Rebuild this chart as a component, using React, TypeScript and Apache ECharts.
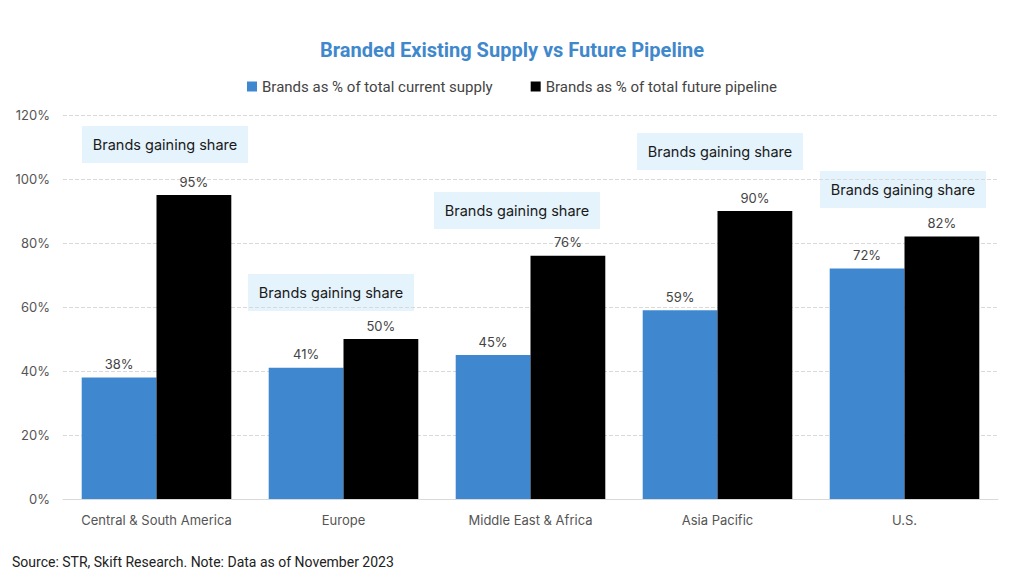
import React, { useEffect, useRef } from "react";
import * as echarts from "echarts";

const categories = ["Central & South America", "Europe", "Middle East & Africa", "Asia Pacific", "U.S."];
const currentSupply = [38, 41, 45, 59, 72];
const futurePipeline = [95, 50, 76, 90, 82];
const yTicks = [0, 20, 40, 60, 80, 100, 120];
const annotationText = "Brands gaining share";
const seriesNames = ["Brands as % of total current supply", "Brands as % of total future pipeline"];

const boxes = [
  { x: 82, y: 126 },
  { x: 248, y: 274 },
  { x: 434, y: 192 },
  { x: 637, y: 133 },
  { x: 820, y: 171 },
];

export default function App() {
  const ref = useRef<HTMLDivElement>(null);
  useEffect(() => {
    const chart = echarts.init(ref.current!, null, { renderer: "svg" });
    const graphic: any[] = [];
    boxes.forEach((b) => {
      graphic.push({
        type: "group",
        left: b.x,
        top: b.y,
        children: [
          { type: "rect", shape: { x: 0, y: 0, width: 166, height: 37 }, style: { fill: "#e4f3fc" } },
          {
            type: "text",
            x: 83,
            y: 18.5,
            style: {
              text: annotationText,
              fill: "#1a1a1a",
              font: "14.5px Inter, sans-serif",
              textAlign: "center",
              textVerticalAlign: "middle",
            },
          },
        ],
      });
    });
    graphic.push({
      type: "text",
      left: 12,
      top: 555,
      style: { text: "Source: STR, Skift Research. Note: Data as of November 2023", fill: "#222", font: "14px Roboto, sans-serif" },
    });
    chart.setOption({
      animation: false,
      backgroundColor: "#fff",
      title: {
        text: "Branded Existing Supply vs Future Pipeline",
        left: "center",
        top: 35,
        textStyle: { color: "#3f88cc", fontSize: 20, fontWeight: "bold", fontFamily: "Roboto, sans-serif" },
      },
      legend: {
        top: 74,
        left: "center",
        icon: "rect",
        itemWidth: 10,
        itemHeight: 10,
        itemGap: 38,
        textStyle: { color: "#444", fontSize: 15, fontFamily: "Roboto, sans-serif" },
        data: seriesNames,
      },
      grid: { left: 63, right: 26, top: 115, bottom: 80 },
      xAxis: {
        type: "category",
        data: categories,
        axisLine: { show: true, lineStyle: { color: "#d9d9d9" } },
        axisTick: { show: false },
        axisLabel: { interval: 0, color: "#555", fontSize: 13, fontFamily: "Inter, sans-serif", margin: 14 },
      },
      yAxis: {
        type: "value",
        min: yTicks[0],
        max: yTicks[yTicks.length - 1],
        interval: 20,
        axisLabel: { formatter: "{value}%", color: "#555", fontSize: 13, fontFamily: "Inter, sans-serif", margin: 13 },
        splitLine: { lineStyle: { color: "#d9d9d9", type: "dashed" } },
        axisLine: { show: false },
        axisTick: { show: false },
      },
      graphic,
      series: [
        {
          name: seriesNames[0],
          type: "bar",
          data: currentSupply,
          barCategoryGap: "20%",
          barGap: "0%",
          itemStyle: { color: "#3f88cf" },
          label: { show: true, position: "top", distance: 7, formatter: "{c}%", color: "#444", fontSize: 13, fontFamily: "Inter, sans-serif" },
        },
        {
          name: seriesNames[1],
          type: "bar",
          data: futurePipeline,
          barCategoryGap: "20%",
          barGap: "0%",
          itemStyle: { color: "#000000" },
          label: { show: true, position: "top", distance: 7, formatter: "{c}%", color: "#444", fontSize: 13, fontFamily: "Inter, sans-serif" },
        },
      ],
    });
    return () => chart.dispose();
  }, []);
  return <div ref={ref} style={{ position: "fixed", left: 0, top: 0, width: 1024, height: 579 }} />;
}
